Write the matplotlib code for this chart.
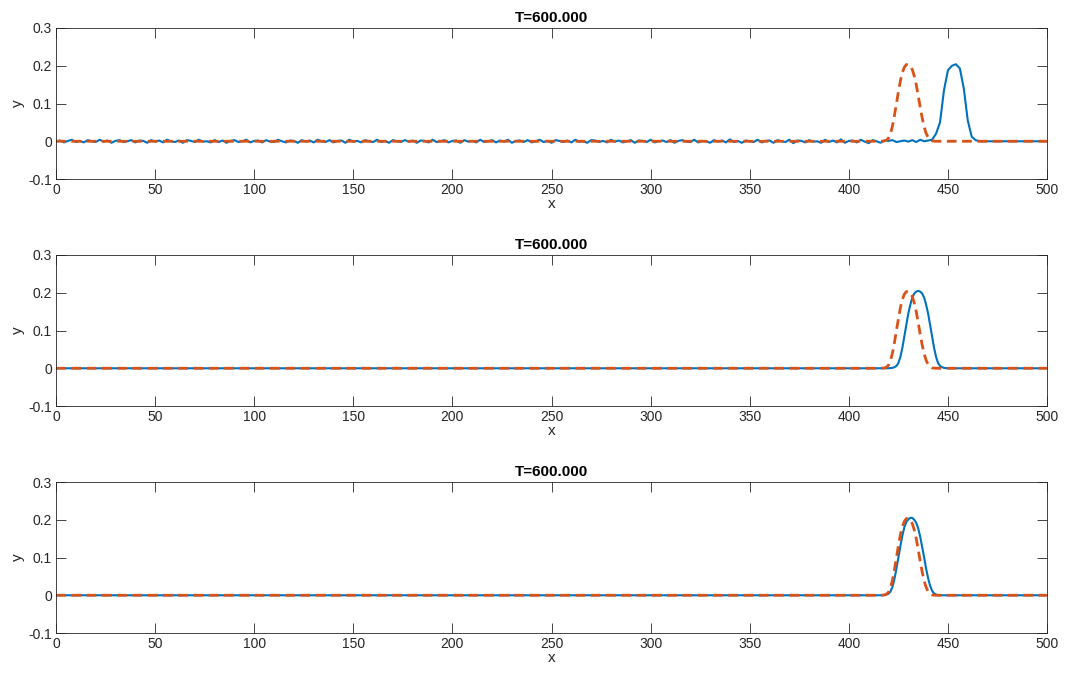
import numpy as np
import matplotlib
matplotlib.use("Agg")
import matplotlib.pyplot as plt

plt.rcParams["font.family"] = ["Liberation Sans", "DejaVu Sans"]
plt.rcParams["lines.scale_dashes"] = False

# grids: coarse (dx = 2) for the noisy top run, fine (dx = 1) for the rest
x_coarse = np.arange(0, 502, 2)
x_fine = np.arange(0, 501, 1)

# top panel: numerical solution with grid-scale noise up to x=438
top_noise = [
    0.000, 0.002, -0.003, 0.001, 0.004, -0.002, 0.001, -0.003, 0.003, 0.000,
    -0.002, 0.004, -0.001, 0.002, -0.004, 0.001, 0.003, -0.002, 0.000, 0.003,
    -0.003, 0.002, 0.001, -0.004, 0.003, -0.001, 0.002, -0.003, 0.004, 0.000,
    -0.002, 0.002, -0.004, 0.003, 0.001, -0.002, 0.004, -0.001, 0.000, -0.003,
    0.003, -0.002, 0.002, -0.004, 0.001, 0.003, -0.002, 0.000, 0.004, -0.003,
    0.001, 0.002, -0.003, 0.003, -0.001, -0.002, 0.004, 0.000, -0.003, 0.002,
    0.001, -0.004, 0.003, -0.001, 0.002, -0.003, 0.004, 0.000, -0.002, 0.003,
    -0.003, 0.001, 0.002, -0.004, 0.004, -0.001, 0.001, -0.003, 0.003, 0.000,
    -0.002, 0.004, -0.002, 0.001, -0.004, 0.003, 0.000, -0.002, 0.003, -0.001,
    0.002, -0.004, 0.002, 0.001, -0.003, 0.004, -0.002, 0.000, 0.003, -0.003,
    0.001, 0.002, -0.004, 0.003, -0.001, 0.001, -0.003, 0.004, -0.002, 0.000,
    0.003, -0.003, 0.002, -0.001, 0.004, -0.004, 0.001, 0.002, -0.002, 0.003,
    -0.003, 0.000, 0.004, -0.002, 0.001, -0.004, 0.003, 0.001, -0.002, 0.002,
    -0.003, 0.004, -0.001, 0.000, -0.004, 0.003, 0.002, -0.002, 0.001, -0.003,
    0.004, -0.001, 0.002, -0.003, 0.000, 0.003, -0.004, 0.002, 0.001, -0.002,
    0.004, -0.003, 0.000, 0.002, -0.002, 0.003, -0.004, 0.001, 0.003, -0.001,
    -0.002, 0.004, -0.003, 0.001, 0.000, -0.004, 0.003, -0.001, 0.002, -0.003,
    0.005, -0.002, 0.001, -0.004, 0.002, 0.000, -0.002, 0.004, -0.003, 0.001,
    0.002, -0.004, 0.003, 0.000, -0.002, 0.004, -0.005, 0.002, 0.001, -0.003,
    0.003, -0.001, 0.000, -0.004, 0.004, -0.002, 0.002, -0.003, 0.005, -0.004,
    0.001, 0.002, -0.003, 0.004, -0.001, -0.005, 0.003, 0.000, -0.004, 0.002,
    0.001, 0.003, -0.002, 0.000, 0.002, -0.001, 0.003, -0.002, 0.004, 0.000,
]
# x = 440 .. 466 (dx = 2)
top_bump = [0.002, 0.004, 0.020, 0.050, 0.135, 0.188, 0.200, 0.204,
            0.193, 0.140, 0.055, 0.012, 0.003, 0.000]

# middle panel, x = 421 .. 450 (dx = 1)
mid_bump = [0.0005, 0.001, 0.003, 0.006, 0.014, 0.030, 0.054, 0.085, 0.115,
            0.145, 0.168, 0.187, 0.198, 0.203, 0.205, 0.203, 0.198, 0.187,
            0.168, 0.145, 0.115, 0.085, 0.054, 0.030, 0.014, 0.006, 0.003,
            0.001, 0.0005, 0.000]

# bottom panel, x = 417 .. 446 (dx = 1)
bot_bump = [0.000, 0.0005, 0.002, 0.004, 0.010, 0.022, 0.043, 0.070, 0.100,
            0.130, 0.158, 0.180, 0.194, 0.201, 0.205, 0.205, 0.200, 0.192,
            0.177, 0.155, 0.128, 0.100, 0.070, 0.045, 0.025, 0.012, 0.005,
            0.002, 0.0005, 0.000]

# exact solution (dashed), x = 416 .. 444 (dx = 1)
exact_bump = [0.000, 0.0005, 0.001, 0.003, 0.008, 0.020, 0.040, 0.068, 0.100,
              0.131, 0.160, 0.182, 0.196, 0.203, 0.204, 0.199, 0.190, 0.173,
              0.150, 0.121, 0.090, 0.062, 0.038, 0.021, 0.010, 0.004, 0.001,
              0.0003, 0.000]


def place(grid, values, x0):
    y = np.zeros(len(grid))
    i0 = int(np.searchsorted(grid, x0))
    y[i0:i0 + len(values)] = values
    return y


top_y = place(x_coarse, top_noise + top_bump, 0)
mid_y = place(x_fine, mid_bump, 421)
bot_y = place(x_fine, bot_bump, 417)
exact_y = place(x_fine, exact_bump, 416)

titles = ["T=600.000", "T=600.000", "T=600.000"]
numeric = [(x_coarse, top_y), (x_fine, mid_y), (x_fine, bot_y)]

fig = plt.figure(figsize=(10.67, 6.73), dpi=100)
bottoms = [0.734, 0.3967, 0.0594]
axcol = "#262626"

for b, (xn, yn), t in zip(bottoms, numeric, titles):
    ax = fig.add_axes([0.0525, b, 0.9288, 0.2244])
    ax.plot(xn, yn, color="#0072BD", lw=1.5)
    ax.plot(x_fine, exact_y, color="#D95319", lw=2.0, dashes=(7, 4))
    ax.set_xlim(0, 500)
    ax.set_ylim(-0.1, 0.3)
    ax.set_xticks(np.arange(0, 501, 50))
    ax.set_yticks([-0.1, 0, 0.1, 0.2, 0.3])
    ax.set_yticklabels(["-0.1", "0", "0.1", "0.2", "0.3"])
    ax.tick_params(direction="in", top=True, right=True, length=7,
                   width=0.6, labelsize=10, colors=axcol, pad=3)
    for s in ax.spines.values():
        s.set_linewidth(0.6)
        s.set_color(axcol)
    ax.set_title(t, fontsize=11, fontweight="bold", pad=4)
    ax.set_xlabel("x", fontsize=11, color=axcol, labelpad=0)
    ax.set_ylabel("y", fontsize=11, color=axcol, labelpad=2)

fig.savefig("out.png", dpi=100)
